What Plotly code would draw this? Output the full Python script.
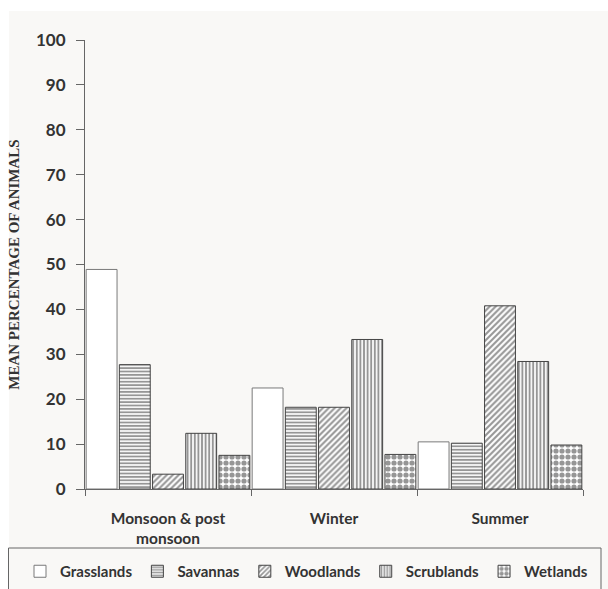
import plotly.graph_objects as go

seasons = ["Monsoon & post<br>monsoon", "Winter", "Summer"]
habitats = ["Grasslands", "Savannas", "Woodlands", "Scrublands", "Wetlands"]
grasslands = [48.9, 22.5, 10.5]
savannas = [27.7, 18.2, 10.2]
woodlands = [3.3, 18.2, 40.8]
scrublands = [12.4, 33.3, 28.4]
wetlands = [7.5, 7.7, 9.8]
series = [grasslands, savannas, woodlands, scrublands, wetlands]
yticks = [0, 10, 20, 30, 40, 50, 60, 70, 80, 90, 100]

patterns = [
    dict(shape=""),
    dict(shape="-", size=3.4, solidity=0.55, fgcolor="#2e2e2e", bgcolor="white"),
    dict(shape="/", size=4.2, solidity=0.5, fgcolor="#2e2e2e", bgcolor="white"),
    dict(shape="|", size=3.6, solidity=0.55, fgcolor="#2e2e2e", bgcolor="white"),
    dict(shape=".", size=6, solidity=0.6, fgcolor="#2e2e2e", bgcolor="white"),
]
lines = ["#7a7a7a", "#444444", "#444444", "#444444", "#444444"]

TXT = "#333333"
fig = go.Figure()
for name, vals, pat, lc in zip(habitats, series, patterns, lines):
    fig.add_trace(go.Bar(
        name=name, x=seasons, y=vals,
        marker=dict(color="white", pattern=pat, line=dict(color=lc, width=1)),
    ))

L, R, T, B = 85, 25, 40, 100
W, H = 608, 589
pw, ph = W - L - R, H - T - B

def px_x(x):
    return (x - L) / pw

def px_y(y):
    return (H - B - y) / ph

fig.update_layout(
    width=W, height=H,
    margin=dict(l=L, r=R, t=T, b=B, autoexpand=False),
    paper_bgcolor="white",
    plot_bgcolor="rgba(0,0,0,0)",
    barmode="group", bargap=0.0, bargroupgap=0.07,
    font=dict(family="Lato", color=TXT),
    showlegend=True,
    legend=dict(
        orientation="h", x=px_x(20), xanchor="left", y=px_y(555), yanchor="top",
        font=dict(family="Lato", size=15, color=TXT, weight="bold"),
        bgcolor="rgba(0,0,0,0)", borderwidth=0, itemclick=False,
        traceorder="normal",
    ),
    xaxis=dict(
        showline=True, linecolor="#666666", linewidth=1.2,
        ticks="outside", tickson="boundaries", ticklen=6, tickcolor="#666666",
        tickfont=dict(family="Lato", size=15.5, color=TXT, weight="bold"),
        ticklabelstandoff=15, automargin=False,
        showgrid=False, zeroline=False, fixedrange=True,
    ),
    yaxis=dict(
        range=[0, 100], tickvals=yticks, showline=True, linecolor="#666666", linewidth=1.2,
        ticks="outside", ticklen=8, tickcolor="#666666",
        tickfont=dict(family="Lato", size=17, color=TXT, weight="bold"),
        ticklabelstandoff=7, automargin=False,
        showgrid=False, zeroline=False,
        title=dict(text="MEAN PERCENTAGE OF ANIMALS", standoff=12,
                   font=dict(family="Liberation Serif", size=15, color=TXT, weight="bold")),
    ),
    shapes=[
        dict(type="rect", xref="paper", yref="paper", x0=px_x(9), x1=px_x(640),
             y0=px_y(11), y1=px_y(640), fillcolor="#f9f8f6", line=dict(width=0), layer="below"),
        dict(type="rect", xref="paper", yref="paper", x0=px_x(-5), x1=px_x(9),
             y0=px_y(108), y1=px_y(437), fillcolor="white", line=dict(width=0), layer="below"),
        dict(type="rect", xref="paper", yref="paper", x0=px_x(8.5), x1=px_x(601),
             y0=px_y(548), y1=px_y(620), fillcolor="rgba(0,0,0,0)",
             line=dict(color="#666666", width=1), layer="below"),
    ],
)

fig.write_html(
    "out.html",
    config={"displayModeBar": False},
    post_script="document.body.style.margin='0';document.body.style.overflow='hidden';",
)
